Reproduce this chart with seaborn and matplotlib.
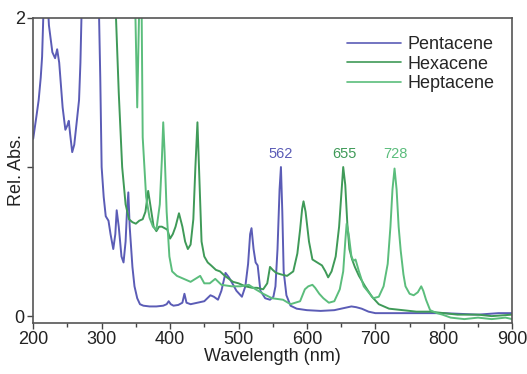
import numpy as np
import pandas as pd
import matplotlib.pyplot as plt
import seaborn as sns
from matplotlib.ticker import MultipleLocator

# spectra (wavelength in nm, relative absorbance)
penta_wl = [200, 205, 208, 211, 213, 216, 220, 223, 228, 232, 235, 238, 243, 247, 250, 252, 254,
            257, 260, 264, 267, 269, 272, 295, 298, 300, 303, 306, 310, 313, 317, 320, 322, 325,
            329, 332, 335, 337, 339, 341, 345, 348, 352, 356, 361, 370, 380, 390, 395, 398, 401,
            405, 412, 418, 421, 424, 430, 440, 450, 459, 464, 470, 475, 481, 486, 491, 497, 505,
            510, 514, 517, 519, 522, 525, 528, 532, 539, 546, 551, 554, 557, 560, 562, 564, 566,
            570, 576, 585, 600, 620, 640, 655, 665, 672, 680, 690, 700, 750, 800, 850, 880, 900]
penta_abs = [1.19, 1.35, 1.45, 1.6, 1.74, 2.2, 2.2, 1.95, 1.77, 1.73, 1.79, 1.7, 1.4, 1.25, 1.28,
             1.31, 1.22, 1.1, 1.15, 1.32, 1.45, 1.7, 2.3, 2.3, 1.6, 1.0, 0.8, 0.67, 0.64, 0.55,
             0.45, 0.55, 0.71, 0.6, 0.4, 0.36, 0.5, 0.7, 0.83, 0.6, 0.33, 0.2, 0.12, 0.08, 0.07,
             0.065, 0.065, 0.07, 0.08, 0.1, 0.08, 0.07, 0.075, 0.09, 0.15, 0.09, 0.08, 0.09, 0.1,
             0.14, 0.13, 0.11, 0.17, 0.29, 0.26, 0.22, 0.17, 0.13, 0.2, 0.35, 0.55, 0.59, 0.45,
             0.36, 0.34, 0.17, 0.12, 0.11, 0.13, 0.2, 0.45, 0.85, 1.0, 0.7, 0.3, 0.14, 0.07, 0.05,
             0.04, 0.035, 0.04, 0.055, 0.065, 0.06, 0.05, 0.03, 0.02, 0.02, 0.02, 0.01, 0.02, 0.02]

hexa_wl = [315, 318, 321, 325, 330, 335, 340, 345, 350, 355, 360, 364, 368, 372, 376, 380, 384,
           388, 392, 396, 400, 404, 408, 413, 418, 422, 426, 430, 434, 437, 440, 443, 446, 450,
           455, 460, 467, 473, 480, 486, 492, 500, 510, 520, 527, 536, 542, 546, 550, 555, 562,
           571, 580, 586, 590, 593, 595, 598, 603, 608, 615, 622, 627, 631, 636, 642, 647, 650,
           653, 656, 659, 662, 666, 670, 676, 685, 695, 705, 720, 740, 760, 780, 800, 820, 850,
           870, 900]
hexa_abs = [2.3, 2.3, 2.0, 1.5, 1.0, 0.75, 0.65, 0.63, 0.62, 0.64, 0.65, 0.7, 0.84, 0.72, 0.6,
            0.57, 0.6, 0.6, 0.59, 0.58, 0.52, 0.55, 0.6, 0.69, 0.6, 0.5, 0.45, 0.48, 0.65, 1.0,
            1.3, 0.9, 0.5, 0.4, 0.36, 0.34, 0.31, 0.3, 0.27, 0.25, 0.23, 0.22, 0.2, 0.19, 0.19,
            0.18, 0.22, 0.33, 0.31, 0.29, 0.28, 0.27, 0.3, 0.42, 0.58, 0.72, 0.77, 0.7, 0.5, 0.38,
            0.36, 0.34, 0.3, 0.26, 0.3, 0.4, 0.6, 0.8, 1.0, 0.88, 0.62, 0.45, 0.38, 0.33, 0.27,
            0.2, 0.13, 0.08, 0.05, 0.04, 0.03, 0.03, 0.02, 0.01, 0.01, 0.0, 0.01]

hepta_wl = [345, 349, 352, 355, 358, 360, 365, 370, 375, 380, 385, 388, 390, 392, 395, 399, 403,
            410, 420, 430, 437, 444, 450, 458, 466, 475, 490, 503, 515, 525, 536, 549, 565, 576,
            590, 597, 602, 608, 612, 618, 624, 632, 640, 648, 653, 656, 658, 661, 665, 668, 671,
            676, 683, 690, 697, 705, 712, 718, 722, 725, 728, 731, 734, 737, 741, 744, 750, 756,
            762, 767, 770, 774, 780, 790, 798, 810, 830, 850, 870, 890, 900]
hepta_abs = [2.3, 2.1, 1.4, 2.1, 2.3, 1.2, 0.8, 0.66, 0.6, 0.58, 0.75, 1.05, 1.3, 1.1, 0.7, 0.4,
             0.3, 0.27, 0.25, 0.23, 0.25, 0.27, 0.22, 0.22, 0.25, 0.21, 0.2, 0.2, 0.21, 0.18, 0.15,
             0.12, 0.11, 0.08, 0.1, 0.18, 0.2, 0.21, 0.19, 0.15, 0.12, 0.09, 0.1, 0.18, 0.3, 0.5,
             0.62, 0.55, 0.4, 0.37, 0.38, 0.3, 0.2, 0.16, 0.12, 0.13, 0.2, 0.35, 0.6, 0.85, 0.99,
             0.85, 0.6, 0.44, 0.28, 0.2, 0.15, 0.14, 0.16, 0.2, 0.17, 0.11, 0.04, 0.02, 0.01,
             -0.01, -0.02, -0.01, -0.02, -0.01, -0.02]

names = ["Pentacene", "Hexacene", "Heptacene"]
colors = ["#5b5cb6", "#3f9a58", "#5bbd7c"]
peak_labels = ["562", "655", "728"]
peak_pos = [562, 655, 729]

df = pd.concat([
    pd.DataFrame({"wl": penta_wl, "abs": penta_abs, "compound": names[0]}),
    pd.DataFrame({"wl": hexa_wl, "abs": hexa_abs, "compound": names[1]}),
    pd.DataFrame({"wl": hepta_wl, "abs": hepta_abs, "compound": names[2]}),
])

sns.set_style("ticks")
plt.rcParams['font.family'] = ["Liberation Sans", "DejaVu Sans"]

fig, ax = plt.subplots(figsize=(5.27, 3.74), dpi=100)
fig.subplots_adjust(left=0.063, right=0.972, top=0.952, bottom=0.136)

sns.lineplot(data=df, x="wl", y="abs", hue="compound", hue_order=names,
             palette=colors, estimator=None, sort=False, linewidth=1.4, ax=ax)

ax.set_xlim(200, 900)
ax.set_ylim(-0.047, 2)
ax.set_xticks([200, 300, 400, 500, 600, 700, 800, 900])
ax.xaxis.set_minor_locator(MultipleLocator(50))
ax.set_yticks([0, 1, 2])
ax.set_yticklabels(["0", "", "2"])
ax.tick_params(axis="both", which="major", direction="out", length=4, width=1,
               labelsize=13, pad=2, colors="#444444", labelcolor="#222222")
ax.tick_params(axis="x", which="minor", direction="out", length=3, width=1, colors="#444444")
for s in ax.spines.values():
    s.set_visible(True)
    s.set_color("#555555")
    s.set_linewidth(1.2)

ax.set_xlabel("Wavelength (nm)", fontsize=13, labelpad=0, color="#222222")
ax.set_ylabel("Rel. Abs.", fontsize=13, color="#222222")
ax.yaxis.set_label_coords(-0.018, 0.5)

for lab, pos, c in zip(peak_labels, peak_pos, colors):
    ax.text(pos, 1.04, lab, color=c, fontsize=10.5, ha="center", va="bottom")

leg = ax.legend(loc="upper right", frameon=False, fontsize=13, handlelength=3.0,
                handletextpad=0.35, labelspacing=0.15, borderaxespad=0.6)
for h in leg.get_lines():
    h.set_linewidth(1.2)

fig.savefig("out.png", dpi=100)
plt.close()
